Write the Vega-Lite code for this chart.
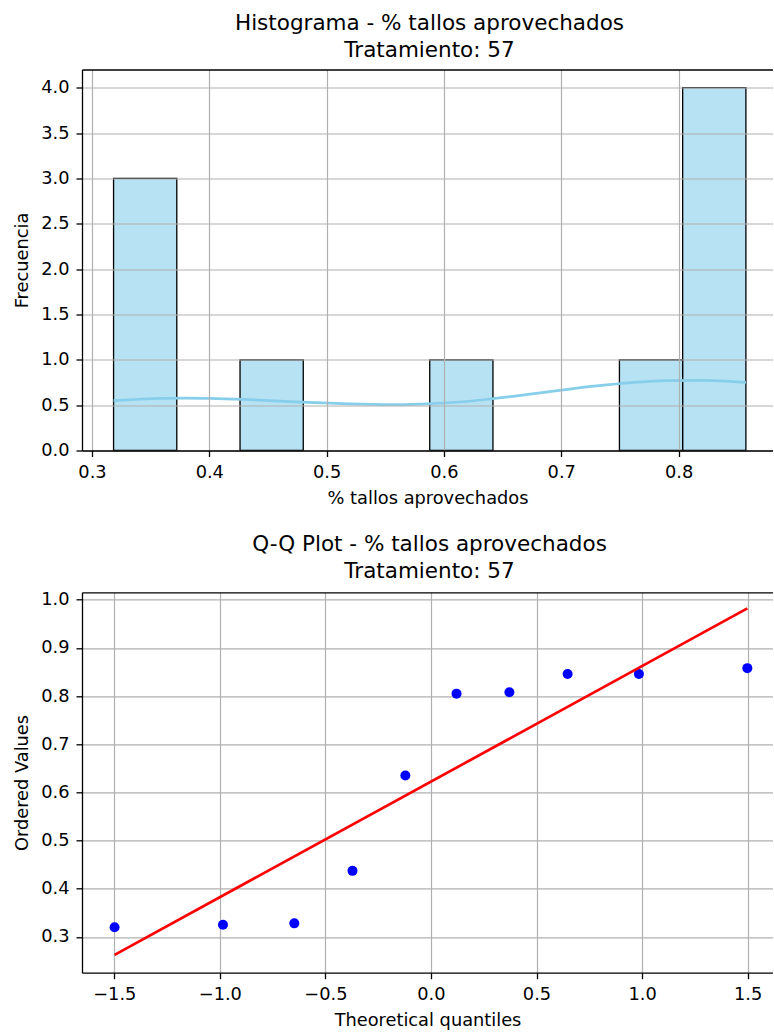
{
  "$schema": "https://vega.github.io/schema/vega-lite/v6.json",
  "padding": {"left": 13, "top": 12.5, "right": 0, "bottom": 0},
  "spacing": 25.8,
  "config": {
    "view": {"stroke": null},
    "font": "DejaVu Sans",
    "axis": {
      "labelFont": "DejaVu Sans", "labelFontSize": 17.8, "labelColor": "#000000",
      "titleFont": "DejaVu Sans", "titleFontSize": 17.8, "titleFontWeight": "normal", "titleColor": "#000000",
      "domainColor": "#000000", "domainWidth": 1.3, "tickColor": "#000000", "tickWidth": 1.3, "tickSize": 6,
      "gridColor": "#b0b0b0", "gridWidth": 1.2, "gridOpacity": 1, "labelFlush": false, "labelOverlap": false
    },
    "axisX": {"labelPadding": 6.5, "titlePadding": 8.4, "titleBaseline": "top"},
    "axisY": {"labelPadding": 7, "titlePadding": 6.8, "minExtent": 44, "maxExtent": 44, "titleBaseline": "bottom"},
    "title": {"font": "DejaVu Sans", "fontSize": 21.5, "fontWeight": "normal", "color": "#000000", "baseline": "bottom", "offset": 8.2, "lineHeight": 27.3, "anchor": "middle", "dx": 2}
  },
  "vconcat": [
    {
      "width": 691,
      "height": 381,
      "title": {"text": ["Histograma - % tallos aprovechados", "Tratamiento: 57"]},
      "resolve": {"axis": {"x": "independent"}, "scale": {"x": "shared"}},
      "layer": [
        {
          "data": {"values": [
            {"bin_start": 0.3184, "bin_end": 0.3723, "count": 3},
            {"bin_start": 0.4262, "bin_end": 0.4801, "count": 1},
            {"bin_start": 0.5879, "bin_end": 0.6418, "count": 1},
            {"bin_start": 0.7496, "bin_end": 0.8035, "count": 1},
            {"bin_start": 0.8035, "bin_end": 0.8574, "count": 4}
          ]},
          "mark": {"type": "rect", "fill": "#87ceeb", "fillOpacity": 0.6, "stroke": "#000000", "strokeWidth": 1.3},
          "encoding": {
            "x": {"field": "bin_start", "type": "quantitative",
                  "scale": {"domain": [0.2915, 0.8805], "nice": false, "zero": false},
                  "axis": {"values": [0.3, 0.4, 0.5, 0.6, 0.7, 0.8], "format": ".1f", "title": "% tallos aprovechados", "grid": true, "zindex": 1}},
            "x2": {"field": "bin_end"},
            "y": {"field": "count", "type": "quantitative",
                  "scale": {"domain": [0, 4.2], "nice": false, "zero": false},
                  "axis": {"values": [0, 0.5, 1, 1.5, 2, 2.5, 3, 3.5, 4], "format": ".1f", "title": "Frecuencia", "grid": true, "zindex": 1}},
            "y2": {"datum": 0}
          }
        },
        {
          "data": {"values": [
            {"x": 0.3184, "count": 0.550},
            {"x": 0.34, "count": 0.565},
            {"x": 0.36, "count": 0.575},
            {"x": 0.38, "count": 0.578},
            {"x": 0.40, "count": 0.575},
            {"x": 0.43, "count": 0.563},
            {"x": 0.46, "count": 0.545},
            {"x": 0.49, "count": 0.527},
            {"x": 0.52, "count": 0.513},
            {"x": 0.55, "count": 0.506},
            {"x": 0.58, "count": 0.512},
            {"x": 0.61, "count": 0.532},
            {"x": 0.64, "count": 0.568},
            {"x": 0.67, "count": 0.615},
            {"x": 0.70, "count": 0.665},
            {"x": 0.73, "count": 0.712},
            {"x": 0.76, "count": 0.749},
            {"x": 0.79, "count": 0.771},
            {"x": 0.82, "count": 0.774},
            {"x": 0.84, "count": 0.765},
            {"x": 0.8574, "count": 0.750}
          ]},
          "mark": {"type": "line", "color": "#87ceeb", "strokeWidth": 2.7, "interpolate": "monotone"},
          "encoding": {
            "x": {"field": "x", "type": "quantitative",
                  "scale": {"domain": [0.2915, 0.8805], "nice": false, "zero": false},
                  "axis": {"orient": "top", "labels": false, "ticks": false, "grid": false, "title": null, "domain": true, "zindex": 1}},
            "y": {"field": "count", "type": "quantitative", "title": "Frecuencia"}
          }
        }
      ]
    },
    {
      "width": 691,
      "height": 380.4,
      "title": {"text": ["Q-Q Plot - % tallos aprovechados", "Tratamiento: 57"]},
      "resolve": {"axis": {"x": "independent"}, "scale": {"x": "shared"}},
      "layer": [
        {
          "data": {"values": [
            {"theoretical": -1.4987, "ordered": 0.320},
            {"theoretical": -0.9852, "ordered": 0.325},
            {"theoretical": -0.6473, "ordered": 0.328},
            {"theoretical": -0.3716, "ordered": 0.437},
            {"theoretical": -0.1212, "ordered": 0.635},
            {"theoretical": 0.1212, "ordered": 0.805},
            {"theoretical": 0.3716, "ordered": 0.808},
            {"theoretical": 0.6473, "ordered": 0.846},
            {"theoretical": 0.9852, "ordered": 0.846},
            {"theoretical": 1.4987, "ordered": 0.858}
          ]},
          "mark": {"type": "point", "shape": "circle", "filled": true, "color": "#0000ff", "opacity": 1, "size": 100},
          "encoding": {
            "x": {"field": "theoretical", "type": "quantitative",
                  "scale": {"domain": [-1.653, 1.6203], "nice": false, "zero": false},
                  "axis": {"values": [-1.5, -1, -0.5, 0, 0.5, 1, 1.5], "format": ".1f", "title": "Theoretical quantiles", "grid": true, "zindex": 0}},
            "y": {"field": "ordered", "type": "quantitative",
                  "scale": {"domain": [0.2255, 1.0155], "nice": false, "zero": false},
                  "axis": {"values": [0.3, 0.4, 0.5, 0.6, 0.7, 0.8, 0.9, 1.0], "format": ".1f", "title": "Ordered Values", "grid": true, "zindex": 0}}
          }
        },
        {
          "data": {"values": [
            {"theoretical": -1.4987, "ordered": 0.2626},
            {"theoretical": 1.4987, "ordered": 0.9820}
          ]},
          "mark": {"type": "line", "color": "#ff0000", "strokeWidth": 2.7},
          "encoding": {
            "x": {"field": "theoretical", "type": "quantitative",
                  "scale": {"domain": [-1.653, 1.6203], "nice": false, "zero": false},
                  "axis": {"orient": "top", "labels": false, "ticks": false, "grid": false, "title": null, "domain": true, "zindex": 1}},
            "y": {"field": "ordered", "type": "quantitative", "title": "Ordered Values"}
          }
        }
      ]
    }
  ]
}
